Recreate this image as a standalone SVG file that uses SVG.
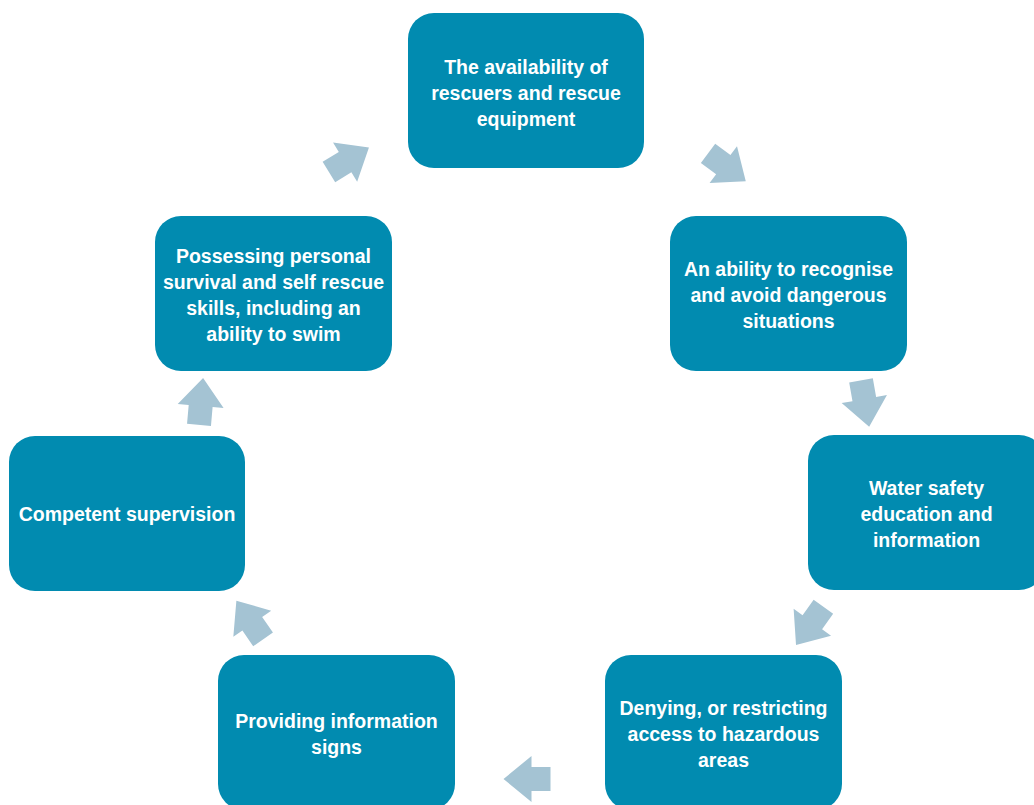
<svg xmlns="http://www.w3.org/2000/svg" width="1034" height="805" viewBox="0 0 1034 805">
  <defs>
    <style>
      .box { fill: #018bb0; }
      .lbl { fill: #ffffff; font-family: "Liberation Sans", Arial, sans-serif; font-weight: bold; font-size: 19.5px; text-anchor: middle; }
      .arr { fill: #a4c3d3; }
    </style>
    <polygon id="arrow" points="-23,-12 -4,-12 -4,-23 24,0 -4,23 -4,12 -23,12"/>
  </defs>
  <rect width="1034" height="805" fill="#ffffff"/>

  <g id="connectors" class="arr">
    <use href="#arrow" transform="translate(348.5,160) rotate(-31.6)"/>
    <use href="#arrow" transform="translate(726.5,167) rotate(36.6)"/>
    <use href="#arrow" transform="translate(865,403) rotate(80)"/>
    <use href="#arrow" transform="translate(810,625.5) rotate(125.6)"/>
    <use href="#arrow" transform="translate(527.5,779) rotate(180)"/>
    <use href="#arrow" transform="translate(250,620.5) rotate(-124.6)"/>
    <use href="#arrow" transform="translate(201,402) rotate(-85)"/>
  </g>

  <g id="node-rescuers">
    <rect class="box" x="408" y="13" width="236" height="155" rx="26"/>
    <text class="lbl" x="526" y="74">The availability of</text>
    <text class="lbl" x="526" y="100">rescuers and rescue</text>
    <text class="lbl" x="526" y="126">equipment</text>
  </g>

  <g id="node-recognise">
    <rect class="box" x="670" y="216" width="237" height="155" rx="26"/>
    <text class="lbl" x="788.5" y="276">An ability to recognise</text>
    <text class="lbl" x="788.5" y="302">and avoid dangerous</text>
    <text class="lbl" x="788.5" y="328">situations</text>
  </g>

  <g id="node-education">
    <rect class="box" x="808" y="435" width="237" height="155" rx="26"/>
    <text class="lbl" x="926.5" y="495">Water safety</text>
    <text class="lbl" x="926.5" y="521">education and</text>
    <text class="lbl" x="926.5" y="547">information</text>
  </g>

  <g id="node-access">
    <rect class="box" x="605" y="655" width="237" height="155" rx="26"/>
    <text class="lbl" x="723.5" y="715">Denying, or restricting</text>
    <text class="lbl" x="723.5" y="741">access to hazardous</text>
    <text class="lbl" x="723.5" y="767">areas</text>
  </g>

  <g id="node-signs">
    <rect class="box" x="218" y="655" width="237" height="155" rx="26"/>
    <text class="lbl" x="336.5" y="728">Providing information</text>
    <text class="lbl" x="336.5" y="754">signs</text>
  </g>

  <g id="node-supervision">
    <rect class="box" x="9" y="436" width="236" height="155" rx="26"/>
    <text class="lbl" x="127" y="521">Competent supervision</text>
  </g>

  <g id="node-survival">
    <rect class="box" x="155" y="216" width="237" height="155" rx="26"/>
    <text class="lbl" x="273.5" y="263">Possessing personal</text>
    <text class="lbl" x="273.5" y="289">survival and self rescue</text>
    <text class="lbl" x="273.5" y="315">skills, including an</text>
    <text class="lbl" x="273.5" y="341">ability to swim</text>
  </g>
</svg>
